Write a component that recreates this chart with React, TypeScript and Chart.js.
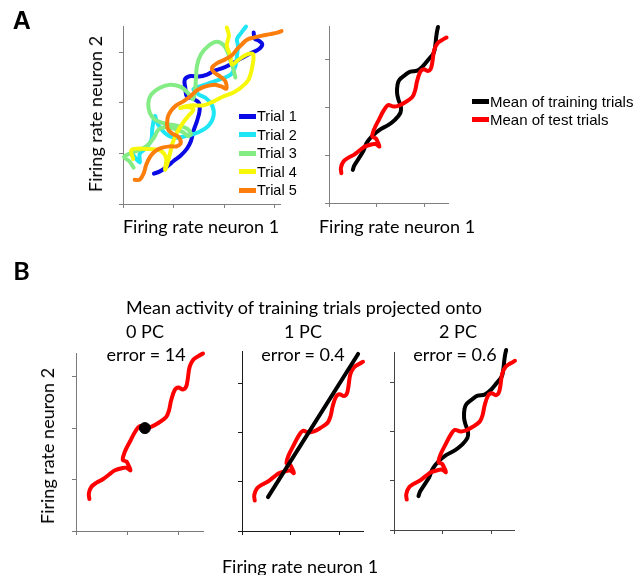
import React, { useEffect, useRef } from "react";
import { Chart, registerables } from "chart.js";
Chart.register(...registerables);

type Pt = [number, number];

// ---------- Panel A (left): single trials, tick units ----------
const trial1: Pt[] = [
  [0.61, 0.6], [0.72, 0.64], [0.87, 0.74], [1.01, 0.86], [1.13, 0.95], [1.26, 1.09],
  [1.34, 1.24], [1.39, 1.44], [1.46, 1.64], [1.51, 1.83], [1.5, 2.0], [1.39, 2.08],
  [1.26, 2.13], [1.23, 2.3], [1.22, 2.46], [1.33, 2.53], [1.49, 2.52], [1.66, 2.56],
  [1.79, 2.63], [1.95, 2.68], [2.12, 2.76], [2.32, 2.87], [2.52, 2.98], [2.68, 3.06],
  [2.75, 3.16], [2.68, 3.23], [2.6, 3.27], [2.58, 3.39],
];
const trial2: Pt[] = [
  [0.2, 0.97], [0.33, 0.82], [0.33, 0.99], [0.46, 1.11], [0.56, 1.27], [0.58, 1.5],
  [0.63, 1.74], [0.68, 1.59], [0.83, 1.4], [1.03, 1.31], [1.26, 1.35], [1.49, 1.42],
  [1.69, 1.55], [1.79, 1.75], [1.76, 1.95], [1.64, 2.09], [1.49, 2.17], [1.39, 2.27],
  [1.56, 2.34], [1.76, 2.41], [1.95, 2.48], [2.13, 2.56], [2.22, 2.73], [2.25, 2.93],
  [2.27, 3.13], [2.25, 3.26], [2.33, 3.38], [2.43, 3.51],
];
const trial3: Pt[] = [
  [0.21, 0.72], [0.13, 0.84], [0.02, 0.93], [0.12, 0.99], [0.3, 1.06], [0.46, 1.14],
  [0.61, 1.31], [0.7, 1.47], [0.83, 1.52], [1.03, 1.48], [1.19, 1.42], [1.29, 1.34],
  [1.34, 1.39], [1.25, 1.5], [1.06, 1.55], [0.83, 1.59], [0.63, 1.67], [0.53, 1.8],
  [0.5, 2.0], [0.56, 2.17], [0.73, 2.3], [0.93, 2.36], [1.13, 2.32], [1.27, 2.21],
  [1.38, 2.07], [1.42, 2.23], [1.44, 2.46], [1.46, 2.73], [1.54, 2.96], [1.69, 3.13],
  [1.85, 3.21], [1.99, 3.14], [2.07, 2.99], [2.12, 2.83], [2.17, 2.7], [2.22, 2.5],
];
const trial4: Pt[] = [
  [0.2, 0.89], [0.17, 1.07], [0.46, 1.09], [0.73, 1.06], [0.85, 0.91], [0.83, 0.68],
  [0.87, 0.78], [0.93, 1.01], [0.98, 1.21], [1.06, 1.4], [1.16, 1.57], [1.29, 1.74],
  [1.39, 1.87], [1.26, 1.92], [1.13, 1.9], [1.33, 1.95], [1.59, 1.95], [1.79, 2.03],
  [1.99, 2.13], [2.19, 2.21], [2.35, 2.32], [2.48, 2.46], [2.55, 2.7], [2.57, 2.96],
  [2.45, 2.96], [2.29, 2.86], [2.15, 2.76], [2.12, 2.93], [2.05, 3.13], [2.09, 3.33],
  [2.05, 3.49],
];
const trial5: Pt[] = [
  [0.23, 0.48], [0.33, 0.48], [0.41, 0.61], [0.46, 0.78], [0.54, 0.94], [0.63, 1.04],
  [0.76, 1.11], [0.93, 1.14], [1.06, 1.14], [1.14, 1.21], [1.09, 1.33], [0.96, 1.4],
  [0.88, 1.5], [0.88, 1.7], [0.94, 1.83], [1.05, 1.95], [1.19, 2.03], [1.33, 2.13],
  [1.44, 2.23], [1.56, 2.3], [1.69, 2.34], [1.82, 2.36], [1.95, 2.32], [2.04, 2.28],
  [2.02, 2.43], [1.92, 2.52], [1.79, 2.61], [1.76, 2.7], [1.85, 2.78], [2.02, 2.86],
  [2.15, 2.94], [2.25, 3.06], [2.35, 3.16], [2.45, 3.25], [2.58, 3.29], [2.75, 3.33],
  [2.91, 3.36], [3.05, 3.39], [3.13, 3.42],
];

// ---------- Means (tick units) ----------
const testMean: Pt[] = [
  [0.26, 0.62], [0.25, 0.73], [0.3, 0.86], [0.4, 0.94], [0.53, 1.01], [0.66, 1.11],
  [0.76, 1.18], [0.89, 1.22], [0.98, 1.23], [1.06, 1.18], [1.02, 1.28], [0.98, 1.35],
  [0.91, 1.38], [0.95, 1.54], [1.05, 1.74], [1.15, 1.93], [1.24, 2.04], [1.36, 2.01],
  [1.47, 2.03], [1.6, 2.1], [1.75, 2.21], [1.81, 2.35], [1.85, 2.54], [1.92, 2.74],
  [1.99, 2.79], [2.08, 2.75], [2.14, 2.8], [2.17, 2.93], [2.21, 3.19], [2.28, 3.33],
  [2.38, 3.4], [2.47, 3.45],
];
const trainMean: Pt[] = [
  [0.5, 0.69], [0.53, 0.78], [0.62, 0.92], [0.72, 1.08], [0.79, 1.25], [0.9, 1.39],
  [1.07, 1.53], [1.25, 1.63], [1.39, 1.74], [1.5, 1.88], [1.51, 2.01], [1.46, 2.15],
  [1.43, 2.29], [1.44, 2.47], [1.48, 2.57], [1.6, 2.67], [1.71, 2.74], [1.85, 2.76],
  [1.97, 2.85], [2.09, 2.99], [2.2, 3.13], [2.23, 3.26], [2.25, 3.44], [2.27, 3.58],
  [2.29, 3.67],
];
const pc1Line: Pt[] = [[0.53, 0.69], [2.37, 3.61]];
const pc0Point: Pt[] = [[1.34, 2.0]];

const trialLabels = ["Trial 1", "Trial 2", "Trial 3", "Trial 4", "Trial 5"];
const trialColors = ["#0a0ae6", "#1fe6f5", "#84ec84", "#f7f70a", "#fb7d0c"];
const meanLabels = ["Mean of training trials", "Mean of test trials"];
const meanColors = ["#000000", "#ff0000"];
const pcTitles = ["0 PC", "1 PC", "2 PC"];
const errorLabels = ["error = 14", "error = 0.4", "error = 0.6"];

const W = 635;
const H = 575;
const TICK = 4;
const LBL = "Lato, 'Open Sans', sans-serif";
const ARIAL = "'Liberation Sans', Arial, sans-serif";

const xy = (pts: Pt[]) => pts.map(([x, y]) => ({ x, y }));

function lineDs(pts: Pt[], color: string, order: number, width = 4) {
  return {
    data: xy(pts),
    borderColor: color,
    backgroundColor: color,
    borderWidth: width,
    pointRadius: 0,
    tension: 0.35,
    borderCapStyle: "round",
    borderJoinStyle: "round",
    fill: false,
    clip: false,
    order,
  };
}

type Panel = {
  area: [number, number, number, number];
  xMax: number;
  yMax: number;
  axisColor: string;
  datasets: any[];
};

const panels: Panel[] = [
  {
    area: [123, 26, 280, 204],
    xMax: 3.1,
    yMax: 3.52,
    axisColor: "#808080",
    datasets: [trial1, trial2, trial3, trial4, trial5].map((t, i) =>
      lineDs(t, trialColors[i], 5 - i)
    ),
  },
  {
    area: [329, 26, 448, 203],
    xMax: 2.5,
    yMax: 3.69,
    axisColor: "#808080",
    datasets: [lineDs(trainMean, meanColors[0], 2), lineDs(testMean, meanColors[1], 1)],
  },
  {
    area: [76, 353, 203, 531],
    xMax: 2.47,
    yMax: 3.46,
    axisColor: "#7a7a7a",
    datasets: [
      lineDs(testMean, meanColors[1], 2),
      {
        type: "scatter",
        data: xy(pc0Point),
        backgroundColor: "#000",
        borderColor: "#000",
        pointRadius: 5.5,
        showLine: false,
        clip: false,
        order: 1,
      },
    ],
  },
  {
    area: [242, 351, 363, 531],
    xMax: 2.47,
    yMax: 3.67,
    axisColor: "#1a1a1a",
    datasets: [lineDs(testMean, meanColors[1], 2), { ...lineDs(pc1Line, meanColors[0], 1), tension: 0 }],
  },
  {
    area: [394, 352, 514, 530],
    xMax: 2.45,
    yMax: 3.63,
    axisColor: "#444",
    datasets: [lineDs(trainMean, meanColors[0], 2), lineDs(testMean, meanColors[1], 1)],
  },
];

function axis(max: number, color: string) {
  return {
    type: "linear",
    min: 0,
    max,
    ticks: { display: false, stepSize: 1, includeBounds: false },
    grid: {
      display: true,
      drawOnChartArea: false,
      drawTicks: true,
      tickLength: TICK,
      color,
      lineWidth: 1,
    },
    border: { display: true, color, width: 1 },
  };
}

function PanelChart({ p }: { p: Panel }) {
  const ref = useRef<HTMLCanvasElement | null>(null);
  useEffect(() => {
    if (!ref.current) return;
    const [L, T, R, B] = p.area;
    const chart = new Chart(ref.current, {
      type: "line",
      data: { datasets: p.datasets },
      options: {
        animation: false,
        responsive: false,
        events: [],
        layout: {
          padding: { left: L - TICK, top: T, right: W - R, bottom: H - B - TICK },
        },
        plugins: {
          legend: { display: false },
          tooltip: { enabled: false },
          title: { display: false },
        },
        scales: {
          x: axis(p.xMax, p.axisColor),
          y: axis(p.yMax, p.axisColor),
        },
      } as any,
    } as any);
    return () => chart.destroy();
  }, [p]);
  return (
    <canvas
      ref={ref}
      width={W}
      height={H}
      style={{ position: "absolute", left: 0, top: 0, width: W, height: H }}
    />
  );
}

function Txt({
  x, y, children, size = 18, font = LBL, rot = false, bold = false, align = "center",
}: {
  x: number; y: number; children: React.ReactNode; size?: number; font?: string;
  rot?: boolean; bold?: boolean; align?: "center" | "left";
}) {
  const tx = align === "center" ? "-50%" : "0";
  return (
    <div
      style={{
        position: "absolute",
        left: x,
        top: y,
        transform: `translate(${tx}, -50%)${rot ? " rotate(-90deg)" : ""}`,
        fontFamily: font,
        fontSize: size,
        fontWeight: bold ? 700 : 400,
        lineHeight: 1,
        whiteSpace: "nowrap",
        color: "#000",
      }}
    >
      {children}
    </div>
  );
}

function LegendRow({ x, y, color, label, size }: { x: number; y: number; color: string; label: string; size: number }) {
  return (
    <>
      <div style={{ position: "absolute", left: x, top: y - 2.5, width: 17, height: 5, background: color }} />
      <Txt x={x + 18} y={y} size={size} font={ARIAL} align="left">{label}</Txt>
    </>
  );
}

export default function App() {
  return (
    <div style={{ position: "absolute", left: 0, top: 0, width: W, height: H, background: "#fff", overflow: "hidden" }}>
      {panels.map((p, i) => (
        <PanelChart key={i} p={p} />
      ))}
      <Txt x={21.7} y={20} size={25} font={ARIAL} bold>A</Txt>
      <Txt x={21.5} y={270} size={25} font={LBL} bold>B</Txt>

      <Txt x={95} y={114} rot>Firing rate neuron 2</Txt>
      <Txt x={201} y={226}>Firing rate neuron 1</Txt>
      <Txt x={397} y={226}>Firing rate neuron 1</Txt>

      {trialLabels.map((l, i) => (
        <LegendRow key={l} x={239} y={116 + i * 18.5} color={trialColors[i]} label={l} size={14.5} />
      ))}
      {meanLabels.map((l, i) => (
        <LegendRow key={l} x={472} y={101 + i * 18} color={meanColors[i]} label={l} size={15} />
      ))}

      <Txt x={304} y={307}>Mean activity of training trials projected onto</Txt>
      {pcTitles.map((t, i) => (
        <Txt key={t} x={[145, 303, 458][i]} y={331}>{t}</Txt>
      ))}
      {errorLabels.map((t, i) => (
        <Txt key={t} x={[146, 303, 455][i]} y={354}>{t}</Txt>
      ))}
      <Txt x={47} y={446} rot>Firing rate neuron 2</Txt>
      <Txt x={300} y={566}>Firing rate neuron 1</Txt>
    </div>
  );
}
